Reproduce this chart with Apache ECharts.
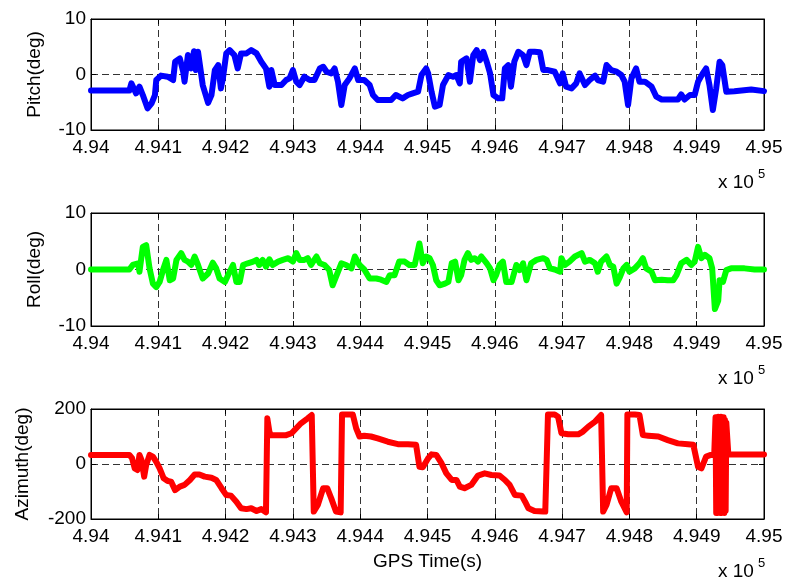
<!DOCTYPE html>
<html>
<head>
<meta charset="utf-8">
<script src="https://cdn.jsdelivr.net/npm/echarts@6/dist/echarts.min.js"></script>
<style>
html, body { margin: 0; padding: 0; background: #fff; }
#main { width: 790px; height: 586px; }
</style>
</head>
<body>
<div id="main"></div>
<script>
// GPS time axis (s)
var tMin = 494000, tMax = 495000, tStep = 100;

var pitchTime = [494000, 494057, 494060, 494067, 494072, 494077, 494084, 494090, 494095, 494097, 494104, 494114, 494122, 494125, 494132, 494137, 494139, 494144, 494149, 494153, 494156, 494159, 494166, 494174, 494179, 494184, 494189, 494193, 494196, 494201, 494206, 494213, 494218, 494223, 494231, 494238, 494246, 494253, 494260, 494265, 494268, 494273, 494283, 494290, 494295, 494300, 494305, 494310, 494317, 494325, 494332, 494340, 494345, 494350, 494357, 494362, 494367, 494372, 494377, 494384, 494392, 494397, 494406, 494414, 494419, 494426, 494436, 494446, 494453, 494463, 494471, 494478, 494486, 494491, 494498,
    494501, 494506, 494511, 494518, 494523, 494531, 494538, 494543, 494548, 494550, 494558, 494563, 494568, 494573, 494578, 494583, 494588, 494593, 494598, 494605, 494611, 494615, 494620, 494624, 494629, 494635, 494642, 494647, 494652, 494659, 494667, 494672, 494679, 494689, 494697, 494701, 494706, 494714, 494721, 494726, 494734, 494741, 494749, 494753, 494761, 494766, 494773, 494781, 494788, 494793, 494798, 494803, 494810, 494815, 494823, 494833, 494840, 494848, 494862, 494872, 494877, 494882, 494890, 494897, 494902, 494909, 494914, 494919, 494924, 494929, 494934, 494938, 494944, 494956, 494981, 495000];
var pitchDeg = [-2.9, -2.9, -1.6, -3.4, -2.2, -3.7, -6.1, -5.2, -3.7, -1, -0.2, -0.4, -1, 2.3, 2.9, 0.5, -1.3, 3.5, 1.1, 4.2, 0.8, 4.1, -1.9, -5.1, -3.7, 0.8, 1.7, -2.5, -0.7, 3.8, 4.4, 3.5, 1.1, 3.8, 3.8, 4.4, 3.8, 2.3, 1.1, -2.2, 0.8, -1.9, -1.9, -1, -0.7, 0.8, -1.3, -1.9, -0.4, -1, -1, 1.1, 1.4, 0.5, 0.2, 1.1, -1.3, -5.5, -1.9, -0.7, 1.1, -1, -1, -1.9, -3.7, -4.6, -4.6, -4.6, -3.7, -4.3, -3.7, -3.4, -3.1, -0.1, 1.1,
    0.2, -3.1, -5.8, -5.5, -1.9, -0.1, -0.4, -0.1, -1.6, 2.3, 2.9, -1.3, 3.5, 4.4, 2.6, 4.1, 2.3, 0.2, -3.7, -4.3, -4.3, 1.1, 1.7, -2.2, 2.3, 4.1, 3.5, 1.7, 4.1, 4.1, 4.0, 0.8, 0.8, 0.5, -1.6, 0.2, -2.2, -2.5, -1.6, 0.2, -1.9, -1, -0.2, -1, -1.3, 1.7, 0.8, 0.5, -0.1, -1.3, -5.5, -0.7, 1.1, -1.3, -1.3, -2.2, -4.0, -4.5, -4.5, -4.5, -3.6, -4.5, -3.7, -3.7, -1.3, 0.2, 1.1, -1.9, -6.4, -2.5, 2.3, 1.7, -3.1, -3.0, -2.7, -3.0];

var rollTime = [494000, 494057, 494062, 494070, 494072, 494077, 494082, 494087, 494092, 494097, 494102, 494107, 494112, 494117, 494122, 494127, 494134, 494139, 494144, 494149, 494154, 494159, 494166, 494174, 494181, 494186, 494191, 494199, 494206, 494211, 494216, 494221, 494226, 494233, 494241, 494246, 494250, 494255, 494260, 494265, 494270, 494278, 494285, 494293, 494300, 494305, 494310, 494317, 494322, 494327, 494335, 494340, 494347, 494354, 494359, 494364, 494372, 494379, 494387, 494392, 494399, 494406, 494414, 494424, 494431, 494439, 494444, 494451, 494458, 494466, 494473, 494481, 494488, 494493, 494498,
    494503, 494508, 494513, 494518, 494526, 494531, 494536, 494541, 494546, 494550, 494555, 494560, 494565, 494570, 494575, 494580, 494588, 494593, 494598, 494602, 494607, 494612, 494617, 494625, 494632, 494637, 494642, 494647, 494654, 494662, 494672, 494677, 494682, 494689, 494697, 494699, 494704, 494711, 494719, 494729, 494734, 494741, 494749, 494753, 494758, 494766, 494771, 494776, 494781, 494786, 494791, 494796, 494800, 494808, 494815, 494820, 494825, 494833, 494838, 494848, 494857, 494865, 494870, 494877, 494885, 494892, 494897, 494902, 494907, 494912, 494919, 494923, 494927, 494932, 494934, 494939, 494944, 494951, 494971, 494986, 495000];
var rollDeg = [0, 0, 0.8, 1.1, -0.4, 4.0, 4.3, 0.2, -2.5, -3.1, -2.2, -0.1, 1.7, -1.9, -1.6, 1.7, 2.9, 1.7, 1.4, 0.8, 2.3, 0.8, -1.6, -0.7, 1.2, 0.2, -1.6, -2.2, -0.4, 0.8, -2.2, -2.2, 0.8, 1.1, 1.4, 1.7, 0.8, 1.7, 0.5, 1.8, 0.8, 1.4, 1.7, 2.0, 1.4, 2.9, 1.7, 1.7, 2.0, 0.8, 2.3, 1.1, 0.8, -0.1, -2.8, -1.3, 1.1, 0.8, 0.2, 2.3, 0.8, 0, -1.6, -1.6, -1.8, -2.2, -1, -1, 1.4, 1.4, 0.8, 0.8, 4.6, 1.1, 2.3,
    2.0, 0.8, -1.9, -2.8, -2.5, -2.2, 1.1, 1.4, -1.9, -1, 1.7, 2.9, 1.7, 2.0, 1.4, 2.3, 1.1, 0.2, -1.9, -1, 0.8, 1.4, -2.2, -2.2, 0.8, -0.1, 1.1, -1.9, 1.1, 1.7, 2.0, 1.7, 0.2, 0, -0.4, 2.0, 0.8, 1.4, 2.3, 2.9, 1.4, 1.7, 1.1, -0.4, 1.4, 2.3, 0.8, 0.5, -2.5, -1.3, 0.2, 0.8, -0.4, 0.2, 1.1, 2.0, 0.2, -0.4, -1.9, -1.8, -1.9, -1.9, -1, 1.1, 1.7, 0.8, 1.4, 4.0, 2.0, 2.6, 2.0, 0.2, -7.0, -5.5, -1.9, -2.2, -0.1, 0.2, 0.2, 0, 0];

var aziTime = [494000, 494057, 494061, 494065, 494069, 494072, 494075, 494079, 494082, 494087, 494092, 494097, 494102, 494108, 494114, 494119, 494125, 494132, 494139, 494147, 494154, 494161, 494169, 494179, 494186, 494194, 494201, 494208, 494216, 494223, 494231, 494238, 494246, 494253, 494260, 494262, 494265, 494267, 494278, 494290, 494298, 494305, 494312, 494322, 494328, 494331, 494337, 494345, 494351, 494357, 494364, 494371, 494373, 494379, 494389, 494394, 494399, 494406, 494416, 494426, 494441, 494456, 494471, 494483, 494488, 494493,
    494501, 494506, 494513, 494521, 494528, 494536, 494543, 494548, 494555, 494565, 494575, 494585, 494595, 494607, 494615, 494622, 494630, 494640, 494645, 494650, 494659, 494672, 494675, 494679, 494689, 494694, 494699, 494709, 494724, 494731, 494739, 494749, 494758, 494761, 494766, 494773, 494781, 494788, 494796, 494797, 494808, 494815, 494820, 494828, 494843, 494857, 494872, 494887, 494895, 494902, 494907, 494914, 494921, 494926,
    494928, 494929, 494930, 494931, 494932, 494933, 494934, 494935, 494936, 494937, 494938, 494939, 494940, 494941, 494942, 494943, 494944, 494947, 495000];
var aziDeg = [33, 33, 21, -16, -22, 33, 15, -46, -4, 33, 27, 8, -16, -52, -62, -64, -95, -82, -76, -58, -38, -38, -46, -50, -58, -88, -113, -115, -137, -161, -164, -161, -171, -164, -176, 166, 118, 105, 105, 105, 112, 130, 148, 166, 178, -173, -149, -88, -88, -125, -173, -176, 180, 180, 180, 130, 100, 103, 100, 93, 81, 72, 72, 70, -10, -12,
    21, 35, 33, 2, -34, -58, -58, -82, -88, -76, -42, -34, -40, -42, -58, -76, -113, -115, -137, -161, -171, -173, -173, 180, 180, 172, 112, 108, 108, 118, 136, 154, 178, -173, -149, -88, -88, -137, -176, 180, 180, 178, 105, 103, 100, 87, 75, 72, 70, -10, -16, 27, 33, 33,
    170, -178, 168, -178, 172, -176, 170, -178, 172, -178, 165, -176, 170, -178, 160, -170, 150, 35, 35];

var panelNames = ['Pitch(deg)', 'Roll(deg)', 'Azimuth(deg)'];
var panelRange = [[-10, 10, 10], [-10, 10, 10], [-200, 200, 200]];
var panelColor = ['#0000ff', '#00ff00', '#ff0000'];

function pairs(t, v) {
    var out = [];
    for (var i = 0; i < t.length; i++) out.push([t[i], v[i]]);
    return out;
}

var font = 'Liberation Sans';
var fsize = 19;
var black = '#000';
var dash = { color: '#333', type: [7, 4], width: 1 };
var tick = { inside: true, length: 5, lineStyle: { color: black } };

var grids = [
    { left: 91, right: 26, top: 19, height: 111 },
    { left: 91, right: 26, top: 213, height: 113 },
    { left: 91, right: 26, top: 409, height: 110 }
];
var nameGaps = [47, 47, 59];

var xAxes = [], yAxes = [], series = [], graphics = [];
var seriesData = [pairs(pitchTime, pitchDeg), pairs(rollTime, rollDeg), pairs(aziTime, aziDeg)];

for (var i = 0; i < 3; i++) {
    grids[i].show = true;
    grids[i].borderColor = black;
    grids[i].borderWidth = 1;
    xAxes.push({
        gridIndex: i, type: 'value', position: 'bottom',
        min: tMin, max: tMax, interval: tStep,
        axisLine: { show: true, onZero: false, lineStyle: { color: black } },
        axisTick: tick,
        axisLabel: {
            color: black, fontSize: fsize, fontFamily: font, margin: 8,
            formatter: function (v) { return String(v / 100000); }
        },
        splitLine: { show: true, lineStyle: dash },
        name: i == 2 ? 'GPS Time(s)' : '',
        nameLocation: 'middle', nameGap: 33,
        nameTextStyle: { color: black, fontSize: fsize, fontFamily: font }
    });
    xAxes.push({
        gridIndex: i, type: 'value', position: 'top',
        min: tMin, max: tMax, interval: tStep,
        axisLine: { show: true, onZero: false, lineStyle: { color: black } },
        axisTick: tick, axisLabel: { show: false }, splitLine: { show: false }
    });
    yAxes.push({
        gridIndex: i, type: 'value', position: 'left',
        min: panelRange[i][0], max: panelRange[i][1], interval: panelRange[i][2],
        axisLine: { show: true, onZero: false, lineStyle: { color: black } },
        axisTick: tick,
        axisLabel: { color: black, fontSize: fsize, fontFamily: font, margin: 5 },
        splitLine: { show: true, lineStyle: dash },
        name: panelNames[i], nameLocation: 'middle', nameGap: nameGaps[i],
        nameTextStyle: { color: black, fontSize: fsize, fontFamily: font }
    });
    yAxes.push({
        gridIndex: i, type: 'value', position: 'right',
        min: panelRange[i][0], max: panelRange[i][1], interval: panelRange[i][2],
        axisLine: { show: true, onZero: false, lineStyle: { color: black } },
        axisTick: tick, axisLabel: { show: false }, splitLine: { show: false }
    });
    series.push({
        type: 'line', xAxisIndex: i * 2, yAxisIndex: i * 2,
        data: seriesData[i], showSymbol: false, symbol: 'none',
        lineStyle: { color: panelColor[i], width: 6, cap: 'round', join: 'round' },
        z: 3
    });
    // the "x 10^5" exponent note under each panel
    var bottom = grids[i].top + grids[i].height;
    graphics.push({
        type: 'text', x: 718, y: bottom + 53,
        style: { text: 'x 10', fill: black, font: fsize + 'px Liberation Sans', align: 'left', verticalAlign: 'middle' }
    });
    graphics.push({
        type: 'text', x: 758, y: bottom + 44,
        style: { text: '5', fill: black, font: '13px Liberation Sans', align: 'left', verticalAlign: 'middle' }
    });
}

var chart = echarts.init(document.getElementById('main'), null, { renderer: 'canvas' });
chart.setOption({
    animation: false,
    backgroundColor: '#fff',
    grid: grids,
    xAxis: xAxes,
    yAxis: yAxes,
    series: series,
    graphic: graphics
});
</script>
</body>
</html>
